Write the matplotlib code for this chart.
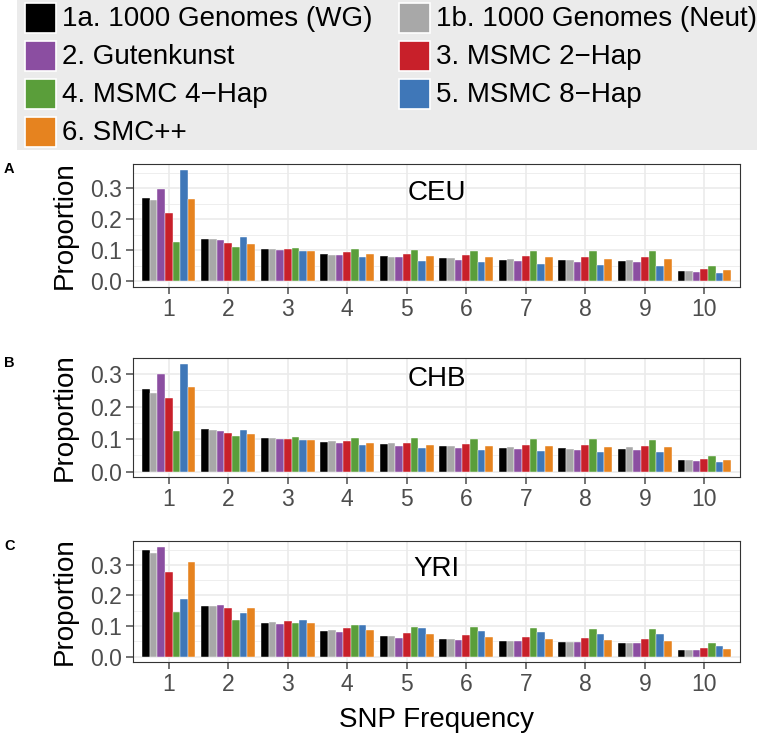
import numpy as np
import matplotlib
matplotlib.use("Agg")
import matplotlib.pyplot as plt
from matplotlib.patches import Rectangle

plt.rcParams['font.family'] = ['Liberation Sans', 'DejaVu Sans']

freqs = [1, 2, 3, 4, 5, 6, 7, 8, 9, 10]
methods = ["1a. 1000 Genomes (WG)", "1b. 1000 Genomes (Neut)", "2. Gutenkunst",
           "3. MSMC 2\u2212Hap", "4. MSMC 4\u2212Hap", "5. MSMC 8\u2212Hap", "6. SMC++"]
colors = ["#000000", "#A8A8A8", "#8B4EA1", "#C8202A", "#5A9E3A", "#3F77B8", "#E6831F"]

# one row per method, one value per SNP frequency
ceu = [
    [0.267, 0.137, 0.104, 0.089, 0.081, 0.074, 0.070, 0.069, 0.066, 0.033],
    [0.261, 0.137, 0.104, 0.085, 0.077, 0.076, 0.071, 0.069, 0.070, 0.033],
    [0.299, 0.134, 0.101, 0.086, 0.077, 0.070, 0.066, 0.064, 0.062, 0.030],
    [0.221, 0.124, 0.103, 0.094, 0.088, 0.084, 0.082, 0.080, 0.078, 0.039],
    [0.127, 0.110, 0.106, 0.103, 0.101, 0.099, 0.098, 0.097, 0.097, 0.049],
    [0.360, 0.144, 0.097, 0.078, 0.067, 0.061, 0.056, 0.053, 0.051, 0.026],
    [0.264, 0.122, 0.098, 0.088, 0.083, 0.079, 0.077, 0.073, 0.072, 0.036],
]
chb = [
    [0.254, 0.130, 0.104, 0.092, 0.084, 0.079, 0.074, 0.072, 0.071, 0.036],
    [0.242, 0.129, 0.105, 0.094, 0.087, 0.080, 0.077, 0.069, 0.075, 0.036],
    [0.300, 0.126, 0.099, 0.087, 0.078, 0.073, 0.069, 0.067, 0.065, 0.032],
    [0.228, 0.118, 0.101, 0.093, 0.089, 0.085, 0.083, 0.081, 0.080, 0.040],
    [0.126, 0.109, 0.106, 0.104, 0.102, 0.101, 0.100, 0.099, 0.098, 0.049],
    [0.333, 0.129, 0.097, 0.082, 0.073, 0.067, 0.063, 0.060, 0.059, 0.030],
    [0.262, 0.117, 0.097, 0.089, 0.083, 0.080, 0.078, 0.076, 0.075, 0.037],
]
yri = [
    [0.350, 0.166, 0.109, 0.082, 0.066, 0.056, 0.050, 0.047, 0.045, 0.022],
    [0.340, 0.166, 0.114, 0.086, 0.067, 0.056, 0.050, 0.047, 0.045, 0.021],
    [0.360, 0.168, 0.106, 0.079, 0.062, 0.055, 0.050, 0.046, 0.045, 0.022],
    [0.275, 0.158, 0.115, 0.092, 0.078, 0.069, 0.063, 0.059, 0.057, 0.027],
    [0.145, 0.121, 0.110, 0.103, 0.098, 0.095, 0.093, 0.091, 0.090, 0.045],
    [0.188, 0.143, 0.119, 0.103, 0.092, 0.084, 0.079, 0.075, 0.073, 0.036],
    [0.310, 0.158, 0.111, 0.087, 0.073, 0.063, 0.058, 0.054, 0.051, 0.025],
]
pops = ["CEU", "CHB", "YRI"]
panel_tags = ["A", "B", "C"]

W, H = 757, 737
fig = plt.figure(figsize=(W / 100, H / 100), dpi=100)

# legend block, drawn in pixel coords
lax = fig.add_axes([17 / W, 1 - 150 / H, 740 / W, 150 / H])
lax.set_xlim(17, 757)
lax.set_ylim(150, 0)
lax.set_facecolor("#EBEBEB")
lax.set_xticks([])
lax.set_yticks([])
for s in lax.spines.values():
    s.set_visible(False)
for i, (lab, col) in enumerate(zip(methods, colors)):
    r, c = divmod(i, 2)
    x0 = 25 if c == 0 else 399
    yc = 18 + r * 38
    lax.add_patch(Rectangle((x0, yc - 15), 31, 30, facecolor=col, edgecolor="white", lw=1.2))
    lax.text(x0 + 37, yc + 1, lab, fontsize=20, va="center", ha="left", color="black")

# panels: (top, bottom) in pixels
panel_px = [(164, 287), (358, 477), (541, 662)]
nm = len(methods)
bw = 0.9 / nm
x = np.array(freqs, dtype=float)

for k, (data, pop, tag) in enumerate(zip([ceu, chb, yri], pops, panel_tags)):
    top, bot = panel_px[k]
    ax = fig.add_axes([133 / W, 1 - bot / H, (740 - 133) / W, (bot - top) / H])
    for j in range(nm):
        ax.bar(x - 0.45 + bw * (j + 0.5), data[j], width=bw, color=colors[j],
               edgecolor="white", linewidth=0.3, zorder=3)
    ymax = max(max(row) for row in data)
    ax.set_ylim(-0.05 * ymax, 1.05 * ymax)
    ax.set_xlim(0.4, 10.6)
    ax.set_xticks(freqs)
    ax.set_yticks([0.0, 0.1, 0.2, 0.3])
    ax.set_yticks([0.05, 0.15, 0.25, 0.35], minor=True)
    ax.set_yticklabels(["0.0", "0.1", "0.2", "0.3"])
    ax.tick_params(axis="both", which="major", labelsize=16.5, colors="#4D4D4D",
                   length=5, width=1.1, pad=3)
    ax.tick_params(axis="y", which="minor", length=0)
    ax.grid(True, which="major", color="#EBEBEB", lw=1.2, zorder=0)
    ax.grid(True, which="minor", axis="y", color="#EBEBEB", lw=0.6, zorder=0)
    ax.set_axisbelow(True)
    for s in ax.spines.values():
        s.set_color("#333333")
        s.set_linewidth(0.8)
    ax.set_ylabel("Proportion", fontsize=20, labelpad=9)
    ax.text(5.5, 0.285, pop, fontsize=20, ha="center", va="center")
    fig.text(4 / W, 1 - (top + 5) / H, tag, fontsize=10.5, fontweight="bold",
             ha="left", va="center")
    if k == 2:
        ax.set_xlabel("SNP Frequency", fontsize=20, labelpad=8)

fig.savefig("out.png", dpi=100)
